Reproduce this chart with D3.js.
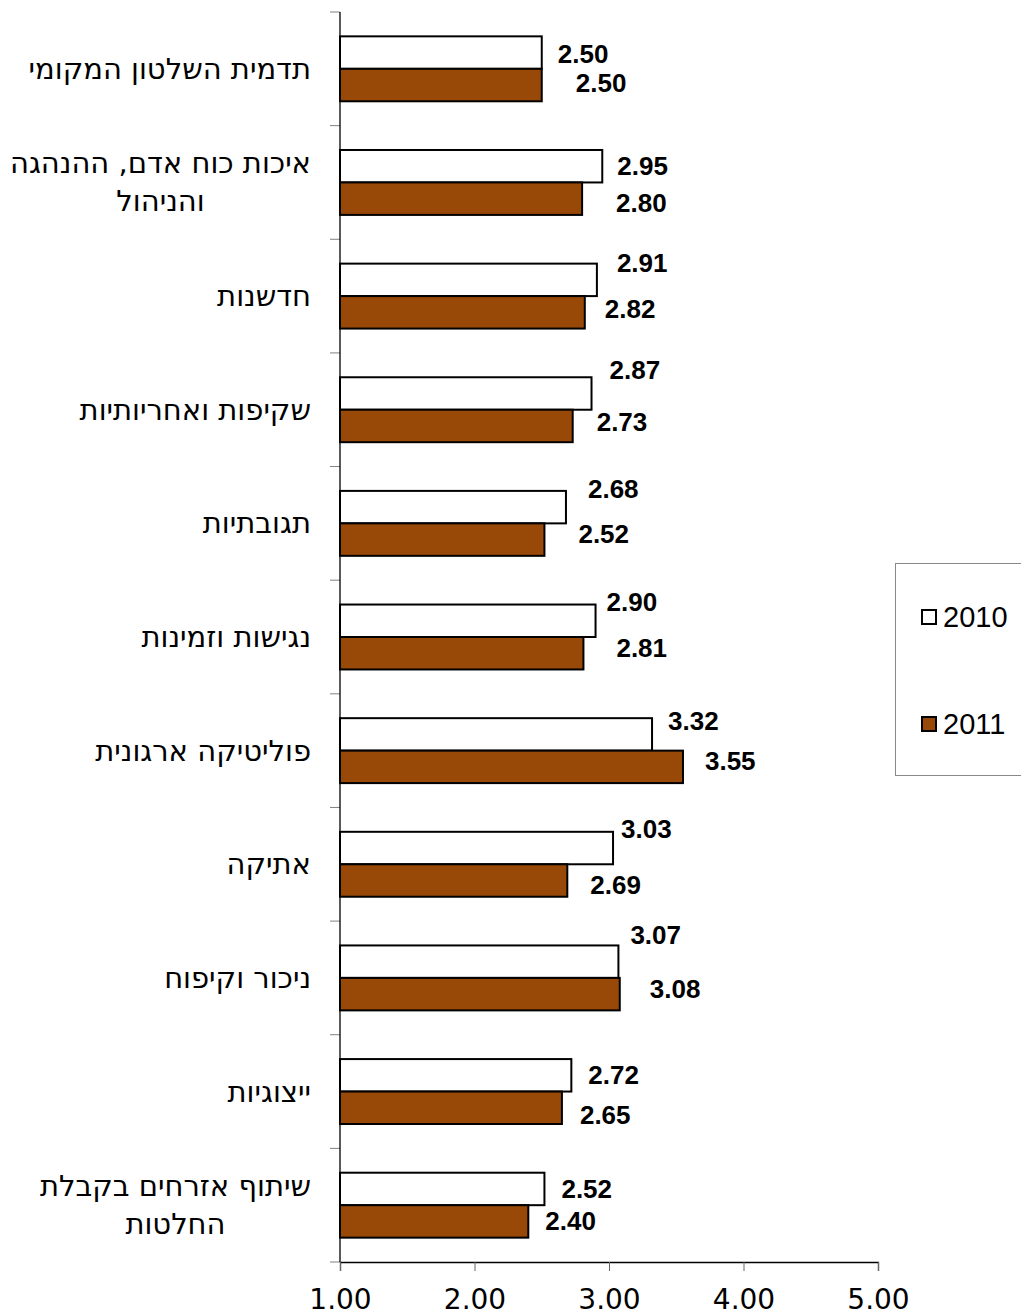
<!DOCTYPE html>
<html>
<head>
<meta charset="utf-8">
<script src="https://d3js.org/d3.v7.min.js"></script>
<style>
  html, body { margin: 0; padding: 0; background: #fff; }
  svg { display: block; }
</style>
</head>
<body>
<script>
// ---------- data ----------
const categories = [
  ["תדמית השלטון המקומי"],
  ["איכות כוח אדם, ההנהגה", "והניהול"],
  ["חדשנות"],
  ["שקיפות ואחריותיות"],
  ["תגובתיות"],
  ["נגישות וזמינות"],
  ["פוליטיקה ארגונית"],
  ["אתיקה"],
  ["ניכור וקיפוח"],
  ["ייצוגיות"],
  ["שיתוף אזרחים בקבלת", "החלטות"]
];
const seriesNames = ["2010", "2011"];
const values2010 = [2.50, 2.95, 2.91, 2.87, 2.68, 2.90, 3.32, 3.03, 3.07, 2.72, 2.52];
const values2011 = [2.50, 2.80, 2.82, 2.73, 2.52, 2.81, 3.55, 2.69, 3.08, 2.65, 2.40];
const xTicks = [1, 2, 3, 4, 5];

// ---------- layout (label nudges, px, relative to bar end / bar centre) ----------
const nudgeDx2010 = [16, 15, 20, 18, 22, 11, 16, 8, 12, 17, 17];
const nudgeDy2010 = [1, 0, -17, -23, -18, -19, -13, -19, -27, 0, 0];
const nudgeDx2011 = [34, 34, 20, 24, 34, 33, 22, 23, 30, 18, 17];
const nudgeDy2011 = [-2, 4, -3, -4, -6, -5, -6, 4, -5, 7, 0];

const W = 1021, H = 1316;
const colors = { "2010": "#ffffff", "2011": "#984807" };

const svg = d3.select("body").append("svg")
  .attr("width", W).attr("height", H);

const x = d3.scaleLinear().domain([1, 5]).range([340, 878]);
const y = d3.scaleBand().domain(d3.range(categories.length)).range([12, 1262]);
const yInner = d3.scaleBand().domain(seriesNames).range([0, y.bandwidth()]).paddingInner(0).paddingOuter(0.75);

const rows = categories.map((c, i) => ({
  i, lines: c,
  vals: [
    { s: "2010", v: values2010[i], dx: nudgeDx2010[i], dy: nudgeDy2010[i] },
    { s: "2011", v: values2011[i], dx: nudgeDx2011[i], dy: nudgeDy2011[i] }
  ]
}));

// category tick marks on left of axis
const bounds = d3.range(categories.length + 1).map(i => 12 + i * y.step());
svg.append("g").selectAll("line").data(bounds).join("line")
  .attr("x1", 330).attr("x2", 340)
  .attr("y1", d => d).attr("y2", d => d)
  .attr("stroke", "#808080").attr("stroke-width", 1);

// bars
const g = svg.append("g");
rows.forEach(r => {
  const gy = y(r.i);
  g.selectAll(null).data(r.vals).join("rect")
    .attr("x", x(1))
    .attr("y", d => gy + yInner(d.s))
    .attr("width", d => x(d.v) - x(1))
    .attr("height", yInner.bandwidth())
    .attr("fill", d => colors[d.s])
    .attr("stroke", "#000").attr("stroke-width", 2);
  g.selectAll(null).data(r.vals).join("text")
    .attr("x", d => x(d.v) + d.dx)
    .attr("y", d => gy + yInner(d.s) + yInner.bandwidth() / 2 + d.dy)
    .attr("dominant-baseline", "central")
    .attr("font-family", "'Liberation Sans', Arial, sans-serif")
    .attr("font-weight", "bold")
    .attr("font-size", 26)
    .attr("fill", "#000")
    .text(d => d.v.toFixed(2));
});

// category labels (block right-aligned at 311, lines centred within block)
const labelRight = 311;
rows.forEach(r => {
  const cy = y(r.i) + y.bandwidth() / 2;
  const n = r.lines.length;
  const tg = svg.append("g");
  const texts = tg.selectAll("text").data(r.lines).join("text")
    .attr("y", (d, k) => cy + (k - (n - 1) / 2) * 38)
    .attr("dominant-baseline", "central")
    .attr("font-family", "'DejaVu Sans', sans-serif")
    .attr("font-size", 29)
    .attr("fill", "#000")
    .text(d => d);
  let maxW = 0;
  texts.each(function () { maxW = Math.max(maxW, this.getComputedTextLength()); });
  texts.attr("text-anchor", "middle").attr("x", labelRight - maxW / 2);
});

// vertical axis line
svg.append("line")
  .attr("x1", 340).attr("x2", 340).attr("y1", 12).attr("y2", 1262)
  .attr("stroke", "#000").attr("stroke-width", 1.3);

// x axis
const xAxis = d3.axisBottom(x).tickValues(xTicks).tickFormat(d3.format(".2f")).tickSize(9).tickPadding(18);
const ax = svg.append("g").attr("transform", "translate(0,1262)").call(xAxis);
ax.select(".domain").attr("stroke", "#000").attr("stroke-width", 1.3);
ax.selectAll(".tick line").attr("stroke", "#666");
ax.selectAll(".tick text")
  .attr("font-family", "'DejaVu Sans', sans-serif")
  .attr("font-size", 28)
  .attr("fill", "#000");

// legend
const lg = svg.append("g");
lg.append("rect")
  .attr("x", 895.5).attr("y", 563.5).attr("width", 140).attr("height", 212)
  .attr("fill", "#fff").attr("stroke", "#888").attr("stroke-width", 1);
const legY = { "2010": 617, "2011": 724 };
seriesNames.forEach(s => {
  lg.append("rect")
    .attr("x", 922).attr("y", legY[s] - 7).attr("width", 14).attr("height", 14)
    .attr("fill", colors[s]).attr("stroke", "#000").attr("stroke-width", 2);
  lg.append("text")
    .attr("x", 943).attr("y", legY[s])
    .attr("dominant-baseline", "central")
    .attr("font-family", "'Liberation Sans', Arial, sans-serif")
    .attr("font-size", 29)
    .attr("fill", "#000")
    .text(s);
});
</script>
</body>
</html>
